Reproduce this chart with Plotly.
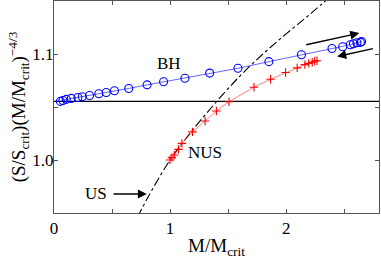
import plotly.graph_objects as go

# BH branch (blue circles)
bh_x = [0.055, 0.077, 0.106, 0.149, 0.206, 0.244, 0.306, 0.386, 0.450, 0.521, 0.644, 0.802,
        0.944, 1.128, 1.341, 1.585, 1.851, 2.132, 2.395, 2.487, 2.553, 2.58, 2.61, 2.64, 2.65]
bh_y = [1.0553, 1.0562, 1.0572, 1.0581, 1.0590, 1.0597, 1.0609, 1.0625, 1.0637, 1.0653, 1.0675, 1.0709,
        1.0738, 1.0771, 1.0820, 1.0865, 1.0928, 1.0993, 1.1052, 1.1068, 1.1087, 1.1097, 1.1106, 1.1110, 1.1118]

# NUS branch (red crosses)
nus_x = [0.999, 1.016, 1.036, 1.073, 1.102, 1.193, 1.302, 1.399, 1.508, 1.723, 1.866, 1.995,
         2.095, 2.161, 2.195, 2.225, 2.246, 2.266]
nus_y = [1.000, 1.0022, 1.0047, 1.0100, 1.0157, 1.0265, 1.0368, 1.0462, 1.0550, 1.0687, 1.0762, 1.0825,
         1.0869, 1.0900, 1.0912, 1.0922, 1.0931, 1.0937]

# US curve (dash-dot)
us_x = [0.72, 0.80, 1.00, 1.20, 1.40, 1.60, 1.80, 2.00, 2.20, 2.40]
us_y = [0.946, 0.963, 1.000, 1.029, 1.055, 1.079, 1.100, 1.119, 1.137, 1.156]

# horizontal reference level
ref_x = [0.0, 2.8]
ref_y = [1.0553, 1.0553]

x_ticks = [0, 1, 2]
x_ticktext = ["0", "1", "2"]
x_minor = [0.5, 1.5, 2.5]
y_ticks = [1.0, 1.1]
y_ticktext = ["1.0", "1.1"]
y_minor = [0.95, 1.05, 1.15]

FONT = "Liberation Serif"

fig = go.Figure()
fig.add_trace(go.Scatter(x=ref_x, y=ref_y, mode="lines",
                         line=dict(color="black", width=1.3), showlegend=False))
fig.add_trace(go.Scatter(x=us_x, y=us_y, mode="lines", line_shape="spline",
                         line=dict(color="black", width=1.1, dash="dashdot"), showlegend=False))
fig.add_trace(go.Scatter(x=nus_x, y=nus_y, mode="lines+markers",
                         line=dict(color="rgba(255,60,60,0.8)", width=0.8),
                         marker=dict(symbol="cross-thin", size=6, line=dict(color="red", width=1.1)),
                         showlegend=False))
fig.add_trace(go.Scatter(x=bh_x, y=bh_y, mode="lines+markers",
                         line=dict(color="rgba(40,40,255,0.9)", width=0.8),
                         marker=dict(symbol="circle-open", size=8, color="blue", line=dict(width=1.1)),
                         showlegend=False))

txt = dict(family=FONT, size=17, color="black")
annotations = [
    dict(x=0.993, y=1.091, text="BH", showarrow=False, font=txt),
    dict(x=1.302, y=1.007, text="NUS", showarrow=False, font=txt),
    dict(x=0.365, y=0.968, text="US", showarrow=False, font=txt, xanchor="center"),
    # arrows
    dict(x=0.80, y=0.968, ax=0.50, ay=0.968, xref="x", yref="y", axref="x", ayref="y",
         text="", showarrow=True, arrowhead=2, arrowsize=1.2, arrowwidth=1.5, arrowcolor="black"),
    dict(x=2.63, y=1.1197, ax=2.16, ay=1.1084, xref="x", yref="y", axref="x", ayref="y",
         text="", showarrow=True, arrowhead=2, arrowsize=1.2, arrowwidth=1.5, arrowcolor="black"),
    dict(x=2.44, y=1.0977, ax=2.76, ay=1.1054, xref="x", yref="y", axref="x", ayref="y",
         text="", showarrow=True, arrowhead=2, arrowsize=1.2, arrowwidth=1.5, arrowcolor="black"),
]

fig.update_layout(
    width=381, height=262,
    margin=dict(l=54, r=2, t=1, b=49),
    paper_bgcolor="white", plot_bgcolor="white",
    font=dict(family=FONT, size=17, color="black"),
    annotations=annotations,
    xaxis=dict(range=[0, 2.8], tickvals=x_ticks, ticktext=x_ticktext, automargin=False,
               ticks="inside", ticklen=4, tickcolor="#555", showgrid=False, zeroline=False,
               minor=dict(tickvals=x_minor, ticks="inside", ticklen=4, tickcolor="#555", showgrid=False),
               showline=True, linecolor="#555", linewidth=1, mirror="ticks",
               title=dict(text="M/M<sub>crit</sub>", standoff=1, font=dict(size=19)),
               tickfont=dict(size=17)),
    yaxis=dict(range=[0.95, 1.15], tickvals=y_ticks, ticktext=y_ticktext, automargin=False,
               ticks="inside", ticklen=4, tickcolor="#555", showgrid=False, zeroline=False,
               minor=dict(tickvals=y_minor, ticks="inside", ticklen=4, tickcolor="#555", showgrid=False),
               showline=True, linecolor="#555", linewidth=1, mirror="ticks",
               ticklabelstandoff=-4,
               title=dict(text="(S/S<sub>crit</sub>)(M/M<sub>crit</sub>)<sup>−4/3</sup>",
                          standoff=0, font=dict(size=19)),
               tickfont=dict(size=17)),
)

fig.write_html("out.html", config={"displayModeBar": False},
               post_script="document.body.style.margin='0';document.body.style.padding='0';")
